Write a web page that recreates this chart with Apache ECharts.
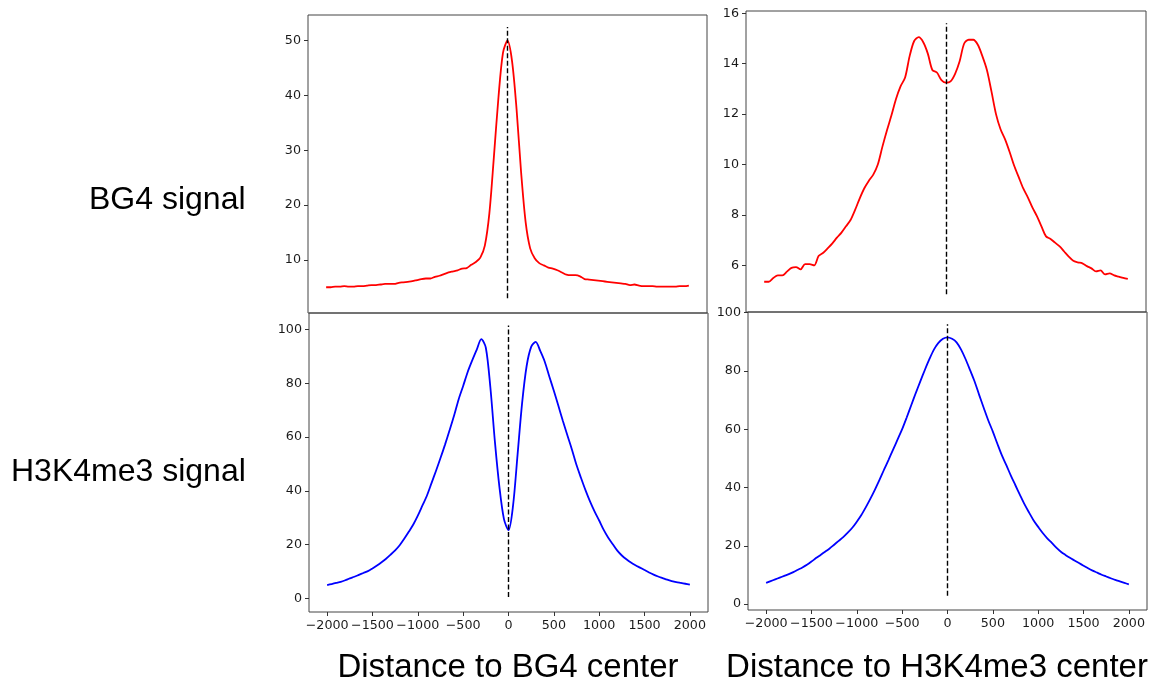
<!DOCTYPE html>
<html>
<head>
<meta charset="utf-8">
<script src="https://cdn.jsdelivr.net/npm/echarts@6/dist/echarts.min.js"></script>
<style>
  html, body { margin: 0; padding: 0; background: #fff; }
  #chart { width: 1168px; height: 692px; }
</style>
</head>
<body>
<div id="chart"></div>
<script>
// distance to center (bp), one bin every 50
const distance = [
  -2000, -1950, -1900, -1850, -1800, -1750, -1700, -1650, -1600, -1550,
  -1500, -1450, -1400, -1350, -1300, -1250, -1200, -1150, -1100, -1050,
  -1000, -950, -900, -850, -800, -750, -700, -650, -600, -550,
  -500, -450, -400, -350, -300, -250, -200, -150, -100, -50,
  0,
  50, 100, 150, 200, 250, 300, 350, 400, 450, 500,
  550, 600, 650, 700, 750, 800, 850, 900, 950, 1000,
  1050, 1100, 1150, 1200, 1250, 1300, 1350, 1400, 1450, 1500,
  1550, 1600, 1650, 1700, 1750, 1800, 1850, 1900, 1950, 2000
];

// BG4 signal around BG4 centers (top left)
const bg4AtBg4 = [
  5.0, 5.0, 5.1, 5.1, 5.2, 5.1, 5.1, 5.2, 5.2, 5.3,
  5.4, 5.4, 5.5, 5.6, 5.6, 5.6, 5.8, 5.9, 6.0, 6.1,
  6.3, 6.5, 6.6, 6.6, 6.9, 7.1, 7.4, 7.7, 7.9, 8.1,
  8.4, 8.5, 9.1, 9.6, 10.4, 12.6, 18.5, 28.8, 39.6, 47.8,
  50.0,
  46.3, 37.5, 26.0, 16.9, 12.1, 10.3, 9.4, 9.0, 8.6, 8.4,
  8.1, 7.7, 7.3, 7.2, 7.2, 7.0, 6.5, 6.4, 6.3, 6.2,
  6.1, 6.0, 5.9, 5.8, 5.7, 5.6, 5.4, 5.5, 5.3, 5.2,
  5.2, 5.2, 5.1, 5.1, 5.1, 5.1, 5.1, 5.2, 5.2, 5.3
];

// BG4 signal around H3K4me3 centers (top right)
const bg4AtH3 = [
  5.35, 5.35, 5.5, 5.6, 5.6, 5.75, 5.9, 5.93, 5.84, 6.05,
  6.05, 6.0, 6.38, 6.5, 6.68, 6.87, 7.1, 7.3, 7.55, 7.8,
  8.2, 8.65, 9.05, 9.35, 9.6, 10.0, 10.7, 11.35, 11.95, 12.6,
  13.1, 13.45, 14.3, 14.9, 15.05, 14.85, 14.4, 13.75, 13.65, 13.35,
  13.25,
  13.3, 13.6, 14.1, 14.8, 14.95, 14.95, 14.75, 14.3, 13.75, 12.9,
  12.0, 11.4, 11.0, 10.5, 9.95, 9.5, 9.05, 8.7, 8.3, 7.95,
  7.55, 7.15, 7.05, 6.9, 6.75, 6.55, 6.35, 6.18, 6.12, 6.08,
  5.97, 5.88, 5.76, 5.8, 5.64, 5.68, 5.6, 5.55, 5.5, 5.46
];

// H3K4me3 signal around BG4 centers (bottom left)
const h3AtBg4 = [
  5.0, 5.4, 5.8, 6.2, 6.8, 7.5, 8.1, 8.8, 9.5, 10.2,
  11.2, 12.3, 13.5, 14.8, 16.3, 17.9, 19.8, 22.2, 24.8, 27.5,
  30.8, 34.5, 38.2, 42.8, 47.4, 52.2, 57.2, 62.5, 68.0, 74.0,
  79.0, 84.2, 88.5, 92.5, 96.4, 93.2, 78.5, 58.3, 41.4, 29.5,
  25.4,
  34.5, 53.5, 72.6, 86.4, 93.5, 95.4, 92.0, 88.0, 82.5, 77.2,
  71.6, 66.0, 60.6, 55.3, 49.6, 44.8, 40.2, 36.0, 32.3, 29.0,
  25.5, 22.6, 20.2, 17.8, 16.0, 14.6, 13.4, 12.4, 11.5, 10.6,
  9.7, 8.9, 8.2, 7.6, 7.0, 6.5, 6.1, 5.8, 5.5, 5.2
];

// H3K4me3 signal around H3K4me3 centers (bottom right)
const h3AtH3 = [
  7.3, 7.9, 8.5, 9.1, 9.7, 10.3, 11.0, 11.8, 12.6, 13.5,
  14.6, 15.8, 16.9, 18.0, 19.1, 20.4, 21.7, 23.0, 24.5, 26.2,
  28.3, 30.6, 33.3, 36.2, 39.3, 42.6, 46.1, 49.5, 53.0, 56.5,
  60.0, 64.0, 68.2, 72.4, 76.4, 80.3, 84.0, 87.3, 89.6, 91.0,
  91.5,
  91.0, 89.8, 87.3, 84.0, 80.2, 76.3, 71.7, 67.3, 63.0, 59.2,
  55.0, 51.0, 47.6, 44.0, 40.7, 37.4, 34.2, 31.4, 28.7, 26.5,
  24.4, 22.6, 21.0, 19.4, 18.0, 16.9, 15.9, 15.0, 14.1, 13.2,
  12.3, 11.5, 10.8, 10.1, 9.5, 8.9, 8.3, 7.8, 7.3, 6.8
];

// extent of the dashed line at x = 0 in each panel
const centerTL = [3.0, 52.5];
const centerTR = [4.85, 15.6];
const centerBL = [0.6, 101.5];
const centerBR = [2.9, 96];

// tick labels
const xTicks = [-2000, -1500, -1000, -500, 0, 500, 1000, 1500, 2000];
const yTicksTL = [10, 20, 30, 40, 50];
const yTicksTR = [6, 8, 10, 12, 14, 16];
const yTicksBottom = [0, 20, 40, 60, 80, 100];

const rowLabels = ['BG4 signal', 'H3K4me3 signal'];
const colLabels = ['Distance to BG4 center', 'Distance to H3K4me3 center'];

const tickFont = { fontFamily: 'DejaVu Sans', fontSize: 12.7, color: '#1a1a1a' };
const minus = v => String(v).replace('-', '\u2212');

function pairs(ys) {
  return distance.map((d, i) => [d, ys[i]]);
}

function xAxis(idx, showLabels) {
  return {
    type: 'value', gridIndex: idx, min: -2200, max: 2200,
    axisLine: { show: false, onZero: false },
    splitLine: { show: false },
    axisTick: { show: showLabels, customValues: xTicks, length: 4, lineStyle: { color: '#333' } },
    axisLabel: { show: showLabels, customValues: xTicks, margin: 7, formatter: minus, ...tickFont }
  };
}

function yAxis(idx, min, max, ticks) {
  return {
    type: 'value', gridIndex: idx, min: min, max: max,
    axisLine: { show: false, onZero: false },
    splitLine: { show: false },
    axisTick: { show: true, customValues: ticks, length: 4, lineStyle: { color: '#333' } },
    axisLabel: { customValues: ticks, margin: 7, formatter: minus, ...tickFont }
  };
}

function centerLine(range) {
  return {
    silent: true, animation: false,
    symbol: ['none', 'none'],
    label: { show: false },
    lineStyle: { color: '#000', type: [5, 2.5], width: 1.4 },
    data: [[{ coord: [0, range[0]] }, { coord: [0, range[1]] }]]
  };
}

function line(idx, ys, color, range) {
  return {
    type: 'line', xAxisIndex: idx, yAxisIndex: idx,
    data: pairs(ys), showSymbol: false, smooth: 0.3,
    lineStyle: { color: color, width: 1.8 },
    itemStyle: { color: color },
    markLine: centerLine(range)
  };
}

const gridStyle = { show: true, borderColor: '#444', borderWidth: 1, backgroundColor: 'transparent' };

const labelFont = '32px "Liberation Sans", Arial, sans-serif';
const bottomFont = '33px "Liberation Sans", Arial, sans-serif';

const option = {
  animation: false,
  backgroundColor: '#fff',
  grid: [
    { left: 308, top: 15, width: 399, height: 298, ...gridStyle },
    { left: 746, top: 11, width: 400, height: 301, ...gridStyle },
    { left: 309, top: 313, width: 399, height: 299, ...gridStyle },
    { left: 748, top: 312, width: 399, height: 298, ...gridStyle }
  ],
  xAxis: [xAxis(0, false), xAxis(1, false), xAxis(2, true), xAxis(3, true)],
  yAxis: [
    yAxis(0, 0.3, 54.7, yTicksTL),
    yAxis(1, 4.15, 16.09, yTicksTR),
    yAxis(2, -5, 106.1, yTicksBottom),
    yAxis(3, -2, 100.2, yTicksBottom)
  ],
  series: [
    line(0, bg4AtBg4, '#ff0000', centerTL),
    line(1, bg4AtH3, '#ff0000', centerTR),
    line(2, h3AtBg4, '#0000ff', centerBL),
    line(3, h3AtH3, '#0000ff', centerBR)
  ],
  graphic: [
    { type: 'text', left: 89, top: 184, style: { text: rowLabels[0], font: labelFont, fill: '#000' } },
    { type: 'text', left: 11, top: 456, style: { text: rowLabels[1], font: labelFont, fill: '#000' } },
    { type: 'text', x: 508, y: 668, style: { text: colLabels[0], font: bottomFont, fill: '#000', align: 'center', verticalAlign: 'middle' } },
    { type: 'text', x: 937, y: 668, style: { text: colLabels[1], font: bottomFont, fill: '#000', align: 'center', verticalAlign: 'middle' } }
  ]
};

const chart = echarts.init(document.getElementById('chart'), null, { renderer: 'canvas' });
chart.setOption(option);
</script>
</body>
</html>
